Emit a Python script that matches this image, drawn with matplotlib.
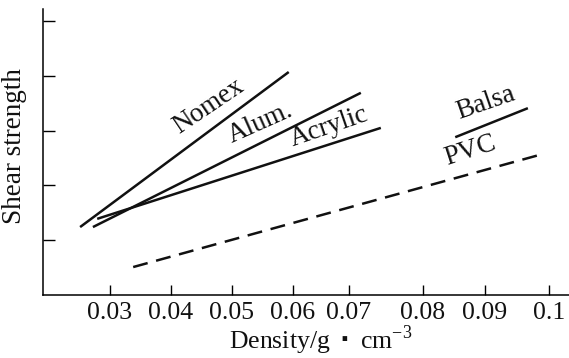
import numpy as np
import matplotlib
matplotlib.use('Agg')
import matplotlib.pyplot as plt

plt.rcParams['font.family'] = ['Liberation Serif', 'DejaVu Serif']
plt.rcParams['mathtext.fontset'] = 'custom'
plt.rcParams['mathtext.rm'] = 'Liberation Serif'

# density ticks and where they sit along the (hand drawn, uneven) axis, px from left spine
x_ticks = [0.03, 0.04, 0.05, 0.06, 0.07, 0.08, 0.09, 0.1]
x_tick_spots = [67, 128, 189, 250, 306, 380, 442, 506]

# lines: (start, end) density and shear strength (arbitrary units)
materials = ['Nomex', 'Alum.', 'Acrylic', 'Balsa', 'PVC']
dens_start = [0.0251, 0.0272, 0.0279, 0.0852, 0.0338]
dens_end = [0.0593, 0.0716, 0.0743, 0.0967, 0.0983]
shear_start = [1.24, 1.24, 1.39, 2.88, 0.51]
shear_end = [4.07, 3.69, 3.05, 3.41, 2.55]

# label anchor (density, shear) and angle
lab_x = [0.0414, 0.0500, 0.0599, 0.0858, 0.0839]
lab_y = [2.93, 2.77, 2.72, 3.22, 2.38]
lab_rot = [34, 24, 19, 19, 18]

# extend scale mapping linearly beyond the end ticks
xs = np.array(x_ticks)
ps = np.array(x_tick_spots, dtype=float)
s0 = (ps[1] - ps[0]) / (xs[1] - xs[0])
s1 = (ps[-1] - ps[-2]) / (xs[-1] - xs[-2])
xs_ext = np.concatenate([[xs[0] - 1], xs, [xs[-1] + 1]])
ps_ext = np.concatenate([[ps[0] - s0], ps, [ps[-1] + s1]])


def fwd(x):
    return np.interp(x, xs_ext, ps_ext)


def inv(p):
    return np.interp(p, ps_ext, xs_ext)


fig = plt.figure(figsize=(5.69, 3.58), dpi=100)
ax = fig.add_axes([43 / 569, 63 / 358, 526 / 569, 286 / 358])
ax.set_xscale('function', functions=(fwd, inv))
ax.set_xlim(inv(0), inv(526))
ax.set_ylim(0, 5.22)

for i, m in enumerate(materials):
    ls = '--' if m == 'PVC' else '-'
    line, = ax.plot([dens_start[i], dens_end[i]], [shear_start[i], shear_end[i]],
                    color='#111111', lw=1.8, ls=ls, solid_capstyle='butt')
    if m == 'PVC':
        line.set_dashes((6, 3.5))
    ax.text(lab_x[i], lab_y[i], m, rotation=lab_rot[i], rotation_mode='anchor',
            ha='left', va='baseline', fontsize=19.5, color='#111111')

ax.set_xticks(x_ticks)
ax.set_xticklabels(['0.03', '0.04', '0.05', '0.06', '0.07', '0.08', '0.09', '0.1'])
ax.set_yticks([1, 2, 3, 4, 5])
ax.set_yticklabels([])
ax.minorticks_off()
ax.tick_params(axis='x', direction='in', length=7, width=1, labelsize=18.5, pad=5,
               labelcolor='#111111')
ax.tick_params(axis='y', direction='in', length=8.5, width=1)

for s in ['top', 'right']:
    ax.spines[s].set_visible(False)
for s in ['left', 'bottom']:
    ax.spines[s].set_linewidth(1.1)

ax.set_ylabel('Shear strength', fontsize=19.5, color='#111111')
ax.yaxis.set_label_coords(-0.030, 0.521)
ax.set_xlabel('Density/g $\\,\\mathbf{\\cdot}\\,$ cm$^{-3}$', fontsize=18.5, color='#111111')
ax.xaxis.set_label_coords(0.527, -0.10)

fig.savefig('out.png', dpi=100)
